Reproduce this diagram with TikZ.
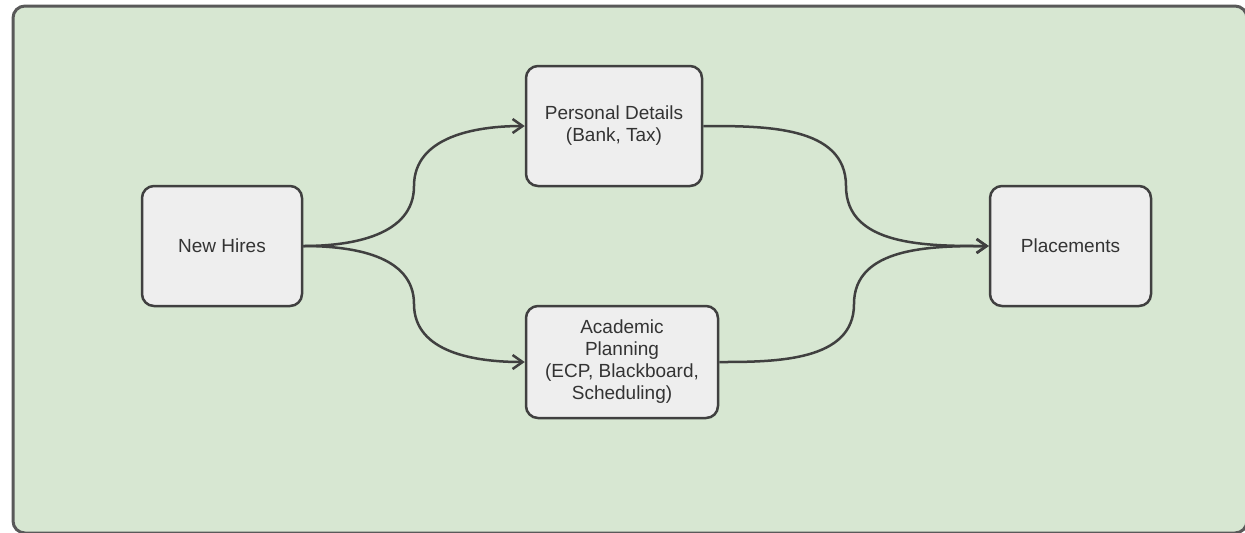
\documentclass[tikz,border=0pt]{standalone}
\usepackage{fontspec}
\setmainfont{Liberation Sans}
\usetikzlibrary{arrows.meta,calc}
\definecolor{panelgreen}{HTML}{D7E7D2}
\definecolor{boxgray}{HTML}{EEEEEE}
\definecolor{linegray}{HTML}{404040}

\begin{document}
\begin{tikzpicture}[x=0.5pt, y=-0.5pt,
     box/.style={draw=linegray, fill=boxgray, line width=1.25pt, rounded corners=6pt,
                 align=center, text=black!80, font=\fontsize{9.5}{11}\selectfont, inner sep=2pt},
     flow/.style={draw=linegray, line width=1.25pt, -{Straight Barb[length=5pt,width=7pt]}}]

   \useasboundingbox (0,0) rectangle (1245,532);
   \draw[fill=panelgreen, draw=black!65, line width=1.5pt, rounded corners=6pt] (13,6) rectangle (1247,533);

   \node[box, minimum width=80pt, minimum height=60pt] (hires) at (222,246) {New Hires};
   \node[box, minimum width=88pt, minimum height=60pt] (personal) at (614,126) {Personal Details\\(Bank, Tax)};
   \node[box, minimum width=96pt, minimum height=56pt] (academic) at (622,362) {Academic\\Planning\\(ECP, Blackboard,\\Scheduling)};
   \node[box, minimum width=80.5pt, minimum height=60pt] (place) at (1070.5,246) {Placements};

   \coordinate (m1) at ($(hires.east)!.5!(personal.west)$);
   \coordinate (m2) at ($(hires.east)!.5!(academic.west)$);
   \coordinate (m3) at ($(personal.east)!.5!(place.west)$);
   \coordinate (m4) at ($(academic.east)!.5!(place.west)$);

   \draw[flow] (hires.east) to[out=0,in=-90] (m1) to[out=90,in=180] (personal.west);
   \draw[flow] (hires.east) to[out=0,in=90] (m2) to[out=-90,in=180] (academic.west);
   \draw[flow] (personal.east) to[out=0,in=90] (m3) to[out=-90,in=180] (place.west);
   \draw[flow] (academic.east) to[out=0,in=-90] (m4) to[out=90,in=180] (place.west);
\end{tikzpicture}
\end{document}
